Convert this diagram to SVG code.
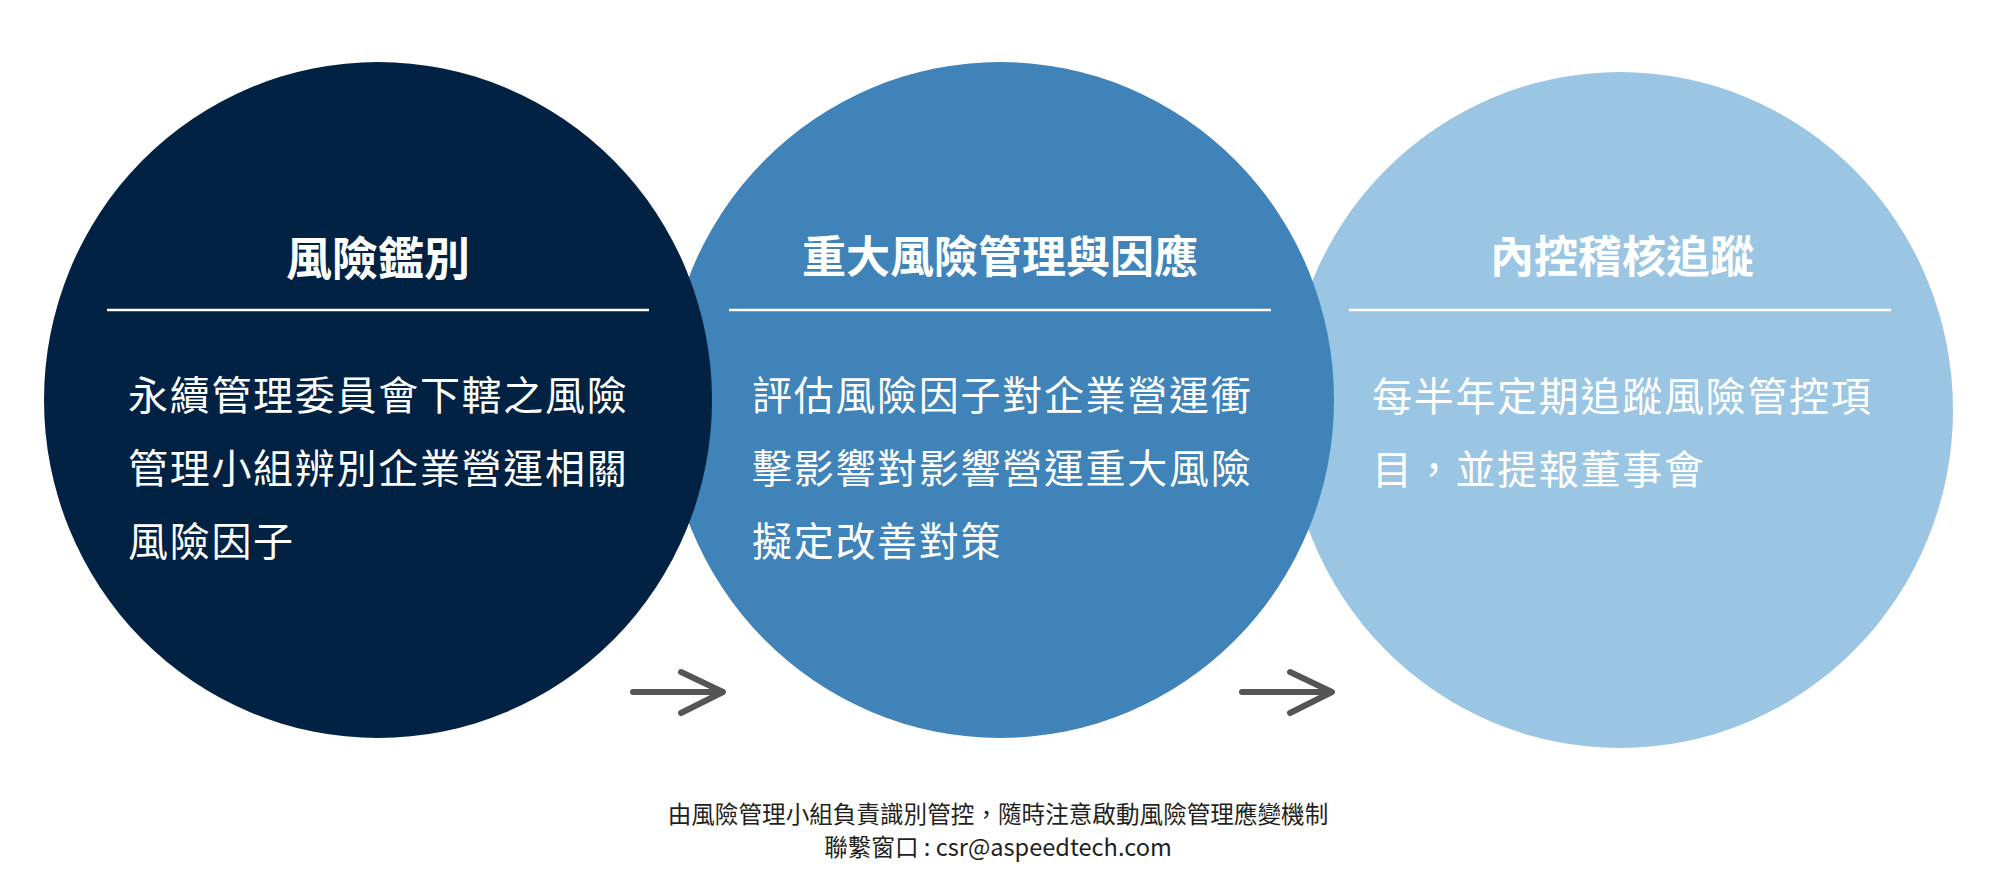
<svg xmlns="http://www.w3.org/2000/svg" width="2000" height="880" viewBox="0 0 2000 880">
  <style>
    .title { font-family: "Noto Sans CJK TC", "Noto Sans CJK SC", sans-serif; font-weight: 700; font-size: 44px; fill: #ffffff; text-anchor: middle; }
    .body { font-family: "Noto Sans CJK TC", "Noto Sans CJK SC", sans-serif; font-weight: 400; font-size: 40px; letter-spacing: 1.7px; fill: #ffffff; }
    .sep { stroke: #ffffff; stroke-width: 2.5; }
    .foot { font-family: "Noto Sans CJK TC", "Noto Sans CJK SC", sans-serif; font-size: 23.6px; fill: #231f20; text-anchor: middle; }
    .arrow { fill: none; stroke: #555555; stroke-width: 6; stroke-linecap: round; stroke-linejoin: round; }
  </style>
  <rect width="2000" height="880" fill="#ffffff"/>

  <g id="node-tracking">
    <ellipse cx="1620" cy="410" rx="333" ry="338" fill="#9ac6e3"/>
    <text class="title" x="1622" y="273">內控稽核追蹤</text>
    <line class="sep" x1="1349" y1="310" x2="1891" y2="310"/>
    <text class="body" x="1372" y="411">每半年定期追蹤風險管控項</text>
    <text class="body" x="1372" y="484">目，並提報董事會</text>
  </g>

  <g id="node-management">
    <ellipse cx="1000" cy="400" rx="334" ry="338" fill="#4083b9"/>
    <text class="title" x="1000" y="273">重大風險管理與因應</text>
    <line class="sep" x1="729" y1="310" x2="1271" y2="310"/>
    <text class="body" x="752" y="410">評估風險因子對企業營運衝</text>
    <text class="body" x="752" y="483">擊影響對影響營運重大風險</text>
    <text class="body" x="752" y="556">擬定改善對策</text>
  </g>

  <g id="node-identification">
    <ellipse cx="378" cy="400" rx="334" ry="338" fill="#012243"/>
    <text class="title" x="378" y="275" style="font-size:46px">風險鑑別</text>
    <line class="sep" x1="107" y1="310" x2="649" y2="310"/>
    <text class="body" x="128" y="410">永續管理委員會下轄之風險</text>
    <text class="body" x="128" y="483">管理小組辨別企業營運相關</text>
    <text class="body" x="128" y="556">風險因子</text>
  </g>

  <g id="connectors">
    <path class="arrow" d="M633 692 H721 M681 672 L723 692 L681 713"/>
    <path class="arrow" d="M1242 692 H1330 M1290 672 L1332 692 L1290 713"/>
  </g>

  <g id="footer">
    <text class="foot" x="998" y="823">由風險管理小組負責識別管控，隨時注意啟動風險管理應變機制</text>
    <text class="foot" x="998" y="856">聯繫窗口 : csr@aspeedtech.com</text>
  </g>
</svg>
